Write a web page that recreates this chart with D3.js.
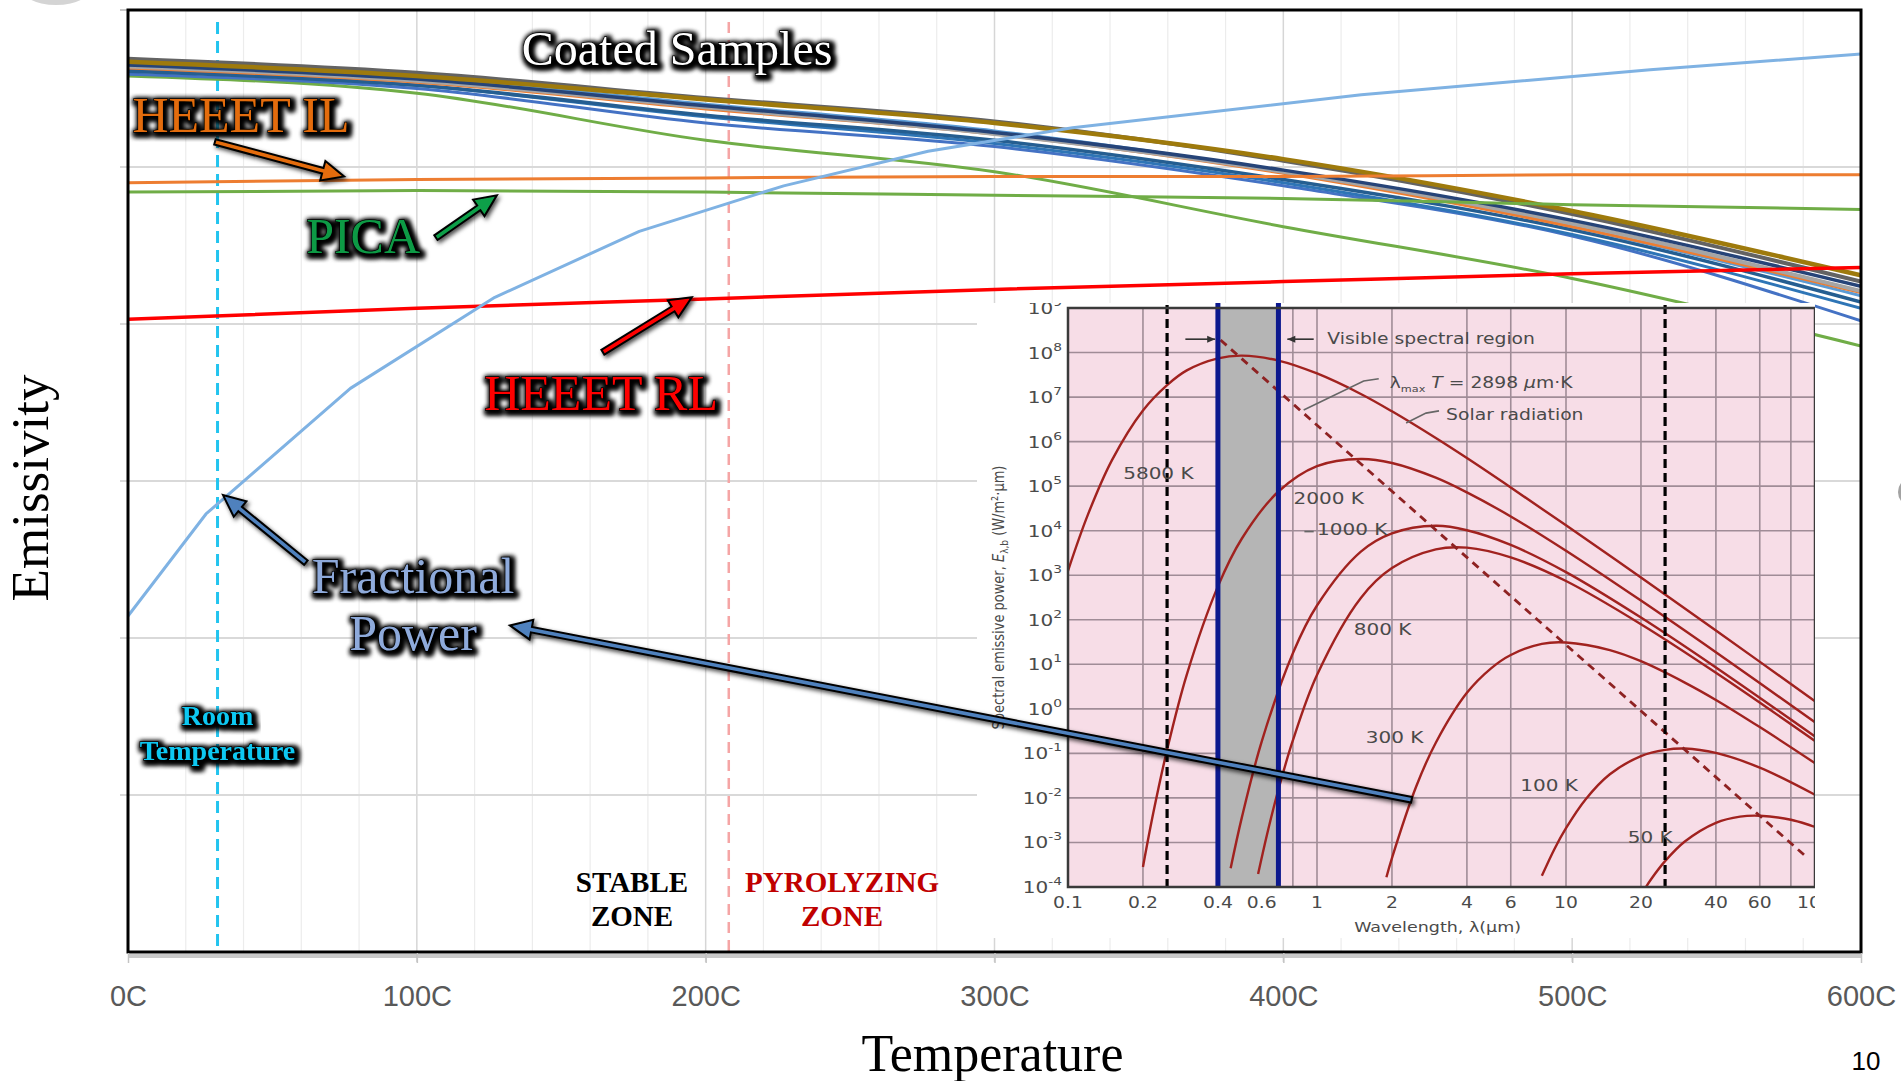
<!DOCTYPE html>
<html>
<head>
<meta charset="utf-8">
<script src="https://cdn.jsdelivr.net/npm/d3@7"></script>
<style>
  body { margin: 0; background: #fff; }
  svg { display: block; }
</style>
</head>
<body>
<div id="chart"></div>
<script>
// ---- main chart data (emissivity vs temperature, C) ----
var tempC = [0, 100, 200, 300, 400, 500, 600];
var sampleGrayDark  = [0.969, 0.960, 0.944, 0.929, 0.904, 0.870, 0.827];
var sampleBrown     = [0.967, 0.958, 0.943, 0.928, 0.905, 0.872, 0.831];
var sampleNavy      = [0.965, 0.956, 0.939, 0.922, 0.898, 0.866, 0.824];
var sampleGray      = [0.964, 0.955, 0.938, 0.921, 0.897, 0.864, 0.821];
var sampleOrange    = [0.963, 0.954, 0.937, 0.921, 0.896, 0.862, 0.820];
var sampleLightBlue = [0.966, 0.957, 0.940, 0.923, 0.897, 0.862, 0.818];
var sampleDarkBlue  = [0.961, 0.952, 0.933, 0.917, 0.892, 0.860, 0.814];
var sampleSteel     = [0.962, 0.952, 0.932, 0.915, 0.890, 0.857, 0.810];
var sampleBlue      = [0.959, 0.950, 0.928, 0.913, 0.888, 0.856, 0.802];
var sampleGreen     = [0.958, 0.947, 0.917, 0.897, 0.862, 0.829, 0.786];
var heeetIL = [0.890, 0.892, 0.893, 0.894, 0.894, 0.895, 0.895];
var pica    = [0.884, 0.885, 0.884, 0.882, 0.880, 0.876, 0.873];
var heeetRL = [0.803, 0.810, 0.816, 0.822, 0.827, 0.832, 0.836];
var fracTemps = [0, 27, 77, 127, 177, 227, 277, 327, 427, 527, 600];
var fracPower = [0.614, 0.679, 0.759, 0.817, 0.859, 0.888, 0.910, 0.925, 0.946, 0.962, 0.972];
var xTickLabels = ["0C", "100C", "200C", "300C", "400C", "500C", "600C"];
var roomTemp = 31, pyroStart = 208;

// ---- inset data (blackbody spectral emissive power, [wavelength um, log10 E]) ----
var bb5800 = [[0.1,3.10],[0.12,4.35],[0.15,5.58],[0.2,6.70],[0.25,7.27],[0.3,7.60],[0.4,7.87],[0.5,7.93],[0.7,7.82],[1,7.53],[1.5,7.07],[2,6.68],[3,6.08],[4,5.63],[6,4.97],[10,4.12],[20,2.95],[40,1.76],[100,0.17]];
var bb2000 = [[0.2,-3.55],[0.22,-2.34],[0.25,-0.92],[0.3,0.77],[0.4,2.75],[0.5,3.83],[0.7,4.88],[1,5.45],[1.5,5.61],[2,5.52],[3,5.19],[4,4.86],[6,4.32],[10,3.55],[20,2.43],[40,1.27],[100,-0.30]];
var bb1000 = [[0.45,-3.58],[0.5,-2.42],[0.6,-0.73],[0.8,1.25],[1,2.32],[1.5,3.53],[2,3.94],[3,4.11],[4,4.01],[6,3.68],[10,3.07],[20,2.05],[40,0.93],[100,-0.62]];
var bb800  = [[0.58,-3.71],[0.63,-2.82],[0.7,-1.81],[0.8,-0.71],[1,0.76],[1.5,2.49],[2,3.16],[3,3.58],[4,3.62],[6,3.40],[10,2.87],[20,1.90],[40,0.81],[100,-0.72]];
var bb300  = [[1.9,-3.78],[2,-3.35],[2.5,-1.75],[3,-0.76],[4,0.36],[5,0.91],[6,1.21],[8,1.46],[10,1.49],[15,1.32],[20,1.07],[30,0.59],[40,0.20],[60,-0.41],[100,-1.22]];
var bb100  = [[8,-3.75],[9,-3.14],[10,-2.68],[12,-2.03],[15,-1.47],[20,-1.06],[25,-0.92],[30,-0.89],[40,-0.99],[60,-1.32],[100,-1.93]];
var bb50   = [[21,-3.99],[22,-3.82],[25,-3.42],[30,-2.98],[40,-2.56],[50,-2.42],[60,-2.40],[80,-2.49],[100,-2.65]];
var wienLine = [[0.41, 8.28], [93, -3.34]];
var lambdaTicks = [0.1, 0.2, 0.4, 0.6, 1, 2, 4, 6, 10, 20, 40, 60, 100];
var lambdaGrid = [0.2, 0.4, 0.6, 0.8, 1, 2, 4, 6, 10, 20, 40, 60, 80];
var powerExps = [-4, -3, -2, -1, 0, 1, 2, 3, 4, 5, 6, 7, 8, 9];
var visibleBand = [0.4, 0.7];
var dashedLambdas = [0.25, 25];

var W = 1901, H = 1081;
var serif = "'Liberation Serif','Times New Roman',serif";
var sans = "'Liberation Sans',Arial,sans-serif";
var dv = "'DejaVu Sans',sans-serif";

var svg = d3.select("#chart").append("svg")
  .attr("width", W)
  .attr("height", H);

var defs = svg.append("defs");
var glow = defs.append("filter").attr("id", "glow")
  .attr("x", "-10%").attr("y", "-40%").attr("width", "120%").attr("height", "180%");
glow.append("feMorphology").attr("in", "SourceAlpha").attr("operator", "dilate").attr("radius", 1.5).attr("result", "dil");
glow.append("feGaussianBlur").attr("in", "dil").attr("stdDeviation", 2.5).attr("result", "blur");
glow.append("feOffset").attr("in", "blur").attr("dx", 1.5).attr("dy", 2).attr("result", "off");
var gm = glow.append("feMerge");
gm.append("feMergeNode").attr("in", "off");
gm.append("feMergeNode").attr("in", "off");
gm.append("feMergeNode").attr("in", "SourceGraphic");

var shadow = defs.append("filter").attr("id", "shadow")
  .attr("x", "-20%").attr("y", "-20%").attr("width", "140%").attr("height", "140%");
shadow.append("feDropShadow").attr("dx", 2).attr("dy", 2.5).attr("stdDeviation", 2)
  .attr("flood-color", "#000").attr("flood-opacity", 0.7);

// scales
var x = d3.scaleLinear().domain([0, 600]).range([128, 1861]);
var y = d3.scaleLinear().domain([0.4, 1.0]).range([952, 10]);

defs.append("clipPath").attr("id", "plotClip").append("rect")
  .attr("x", 128).attr("y", 10).attr("width", 1733).attr("height", 942);

// stray slide bits
svg.append("ellipse").attr("cx", 56).attr("cy", -16).attr("rx", 38).attr("ry", 21).attr("fill", "#d4d4d4");
svg.append("circle").attr("cx", 1913).attr("cy", 492).attr("r", 15).attr("fill", "#a3a3a3");

// gridlines
var grid = svg.append("g");
grid.selectAll(".vminor")
  .data(d3.range(20, 600, 20).filter(function(d) { return d % 100 !== 0; }))
  .enter().append("line")
  .attr("x1", d => x(d)).attr("x2", d => x(d))
  .attr("y1", y(1.0)).attr("y2", y(0.4))
  .attr("stroke", "#ececec").attr("stroke-width", 1.2);
grid.selectAll(".vmajor")
  .data([100, 200, 300, 400, 500])
  .enter().append("line")
  .attr("x1", d => x(d)).attr("x2", d => x(d))
  .attr("y1", y(1.0)).attr("y2", y(0.4) + 10)
  .attr("stroke", "#d6d6d6").attr("stroke-width", 1.5);
grid.selectAll(".hgrid")
  .data([0.5, 0.6, 0.7, 0.8, 0.9])
  .enter().append("line")
  .attr("x1", x(0) - 8).attr("x2", x(600))
  .attr("y1", d => y(d)).attr("y2", d => y(d))
  .attr("stroke", "#d9d9d9").attr("stroke-width", 2);
grid.append("line").attr("x1", x(0) - 8).attr("x2", x(0))
  .attr("y1", y(1.0)).attr("y2", y(1.0)).attr("stroke", "#c8c8c8").attr("stroke-width", 2);

// zone marker lines
svg.append("line")
  .attr("x1", x(pyroStart)).attr("x2", x(pyroStart)).attr("y1", 22).attr("y2", y(0.4))
  .attr("stroke", "#f5a5a5").attr("stroke-width", 2.5).attr("stroke-dasharray", "11,7");
svg.append("line")
  .attr("x1", x(roomTemp)).attr("x2", x(roomTemp)).attr("y1", 22).attr("y2", y(0.4))
  .attr("stroke", "#22c4ef").attr("stroke-width", 3).attr("stroke-dasharray", "12,7");

// data lines
var lineGen = d3.line()
  .x(d => x(d[0]))
  .y(d => y(d[1]))
  .curve(d3.curveMonotoneX);

function zipT(vals) { return tempC.map(function(t, i) { return [t, vals[i]]; }); }

var series = [
  { v: sampleGreen,     c: "#70ad47", w: 3 },
  { v: sampleBlue,      c: "#4472c4", w: 3 },
  { v: sampleSteel,     c: "#2e75b6", w: 3 },
  { v: sampleDarkBlue,  c: "#255e91", w: 3.5 },
  { v: sampleLightBlue, c: "#5b9bd5", w: 3 },
  { v: sampleOrange,    c: "#ed7d31", w: 3 },
  { v: sampleGray,      c: "#a5a5a5", w: 4 },
  { v: sampleNavy,      c: "#264478", w: 3.5 },
  { v: sampleGrayDark,  c: "#636363", w: 4 },
  { v: sampleBrown,     c: "#9e7a0c", w: 4.5 },
  { v: heeetIL,         c: "#ed7d31", w: 3 },
  { v: pica,            c: "#70ad47", w: 3 },
  { v: heeetRL,         c: "#ff0000", w: 3.5 }
];

var dataG = svg.append("g").attr("clip-path", "url(#plotClip)");
dataG.selectAll(".series")
  .data(series)
  .enter().append("path")
  .attr("d", d => lineGen(zipT(d.v)))
  .attr("fill", "none")
  .attr("stroke", d => d.c)
  .attr("stroke-width", d => d.w);

// fractional power is plotted point to point (visible kinks)
dataG.append("path")
  .attr("d", d3.line().x(d => x(d[0])).y(d => y(d[1]))(fracTemps.map(function(t, i) { return [t, fracPower[i]]; })))
  .attr("fill", "none")
  .attr("stroke", "#7fb2e3")
  .attr("stroke-width", 3)
  .attr("stroke-linejoin", "round");

// axes frame
svg.append("line").attr("x1", x(0)).attr("x2", x(600)).attr("y1", y(0.4) + 4).attr("y2", y(0.4) + 4)
  .attr("stroke", "#bdbdbd").attr("stroke-width", 4).attr("opacity", 0.8);
svg.append("rect")
  .attr("x", x(0)).attr("y", y(1.0))
  .attr("width", x(600) - x(0)).attr("height", y(0.4) - y(1.0))
  .attr("fill", "none").attr("stroke", "#000").attr("stroke-width", 3);

var xAxis = d3.axisBottom(x)
  .tickValues(tempC)
  .tickFormat(function(d, i) { return xTickLabels[i]; })
  .tickSize(10)
  .tickPadding(22);
var xg = svg.append("g").attr("transform", "translate(0," + (y(0.4) + 1) + ")").call(xAxis);
xg.select(".domain").remove();
xg.selectAll(".tick line").attr("stroke", "#c4c4c4").attr("stroke-width", 1.5);
xg.selectAll(".tick text")
  .attr("font-family", sans).attr("font-size", 29).attr("fill", "#595959");

svg.append("text")
  .attr("x", x(300) - 2).attr("y", 1071)
  .attr("text-anchor", "middle")
  .attr("font-family", serif).attr("font-size", 52)
  .text("Temperature");

svg.append("text")
  .attr("transform", "translate(48," + 488 + ") rotate(-90)")
  .attr("text-anchor", "middle")
  .attr("font-family", serif).attr("font-size", 53)
  .text("Emissivity");

svg.append("text")
  .attr("x", 1866).attr("y", 1070)
  .attr("text-anchor", "middle")
  .attr("font-family", sans).attr("font-size", 26)
  .text("10");

// ================= inset: blackbody spectrum =================
var xL = d3.scaleLog().domain([0.1, 100]).range([1068, 1815]);
var yL = d3.scaleLinear().domain([-4, 9]).range([887, 308]);

defs.append("clipPath").attr("id", "boxClip").append("rect")
  .attr("x", 977).attr("y", 303).attr("width", 838).attr("height", 635);
defs.append("clipPath").attr("id", "insetClip").append("rect")
  .attr("x", xL(0.1)).attr("y", yL(9)).attr("width", xL(100) - xL(0.1)).attr("height", yL(-4) - yL(9));

var inset = svg.append("g").attr("clip-path", "url(#boxClip)");
inset.append("rect").attr("x", 977).attr("y", 303).attr("width", 838).attr("height", 635).attr("fill", "#fff");
inset.append("rect")
  .attr("x", xL(0.1)).attr("y", yL(9))
  .attr("width", xL(100) - xL(0.1)).attr("height", yL(-4) - yL(9))
  .attr("fill", "#f7dde7");

var ip = inset.append("g").attr("clip-path", "url(#insetClip)");
ip.selectAll(".hg").data(powerExps).enter().append("line")
  .attr("x1", xL(0.1)).attr("x2", xL(100))
  .attr("y1", d => yL(d)).attr("y2", d => yL(d))
  .attr("stroke", "#a08c97").attr("stroke-width", 1.6);
ip.selectAll(".vg").data(lambdaGrid).enter().append("line")
  .attr("x1", d => xL(d)).attr("x2", d => xL(d))
  .attr("y1", yL(9)).attr("y2", yL(-4))
  .attr("stroke", "#a08c97").attr("stroke-width", 1.6);

ip.append("rect")
  .attr("x", xL(visibleBand[0])).attr("y", yL(9))
  .attr("width", xL(visibleBand[1]) - xL(visibleBand[0])).attr("height", yL(-4) - yL(9))
  .attr("fill", "#b5b5b5");

var bbLine = d3.line()
  .x(d => xL(d[0]))
  .y(d => yL(d[1]))
  .curve(d3.curveCatmullRom.alpha(0.5));

ip.selectAll(".bb")
  .data([bb5800, bb2000, bb1000, bb800, bb300, bb100, bb50])
  .enter().append("path")
  .attr("d", d => bbLine(d))
  .attr("fill", "none")
  .attr("stroke", "#a1221f")
  .attr("stroke-width", 2.4);

ip.append("path")
  .attr("d", d3.line().x(d => xL(d[0])).y(d => yL(d[1]))(wienLine))
  .attr("fill", "none").attr("stroke", "#8e2222")
  .attr("stroke-width", 2.8).attr("stroke-dasharray", "8,6");

inset.selectAll(".vis").data(visibleBand).enter().append("line")
  .attr("x1", d => xL(d)).attr("x2", d => xL(d))
  .attr("y1", yL(9) - 8).attr("y2", yL(-4))
  .attr("stroke", "#0c188e").attr("stroke-width", 5);

inset.selectAll(".dl").data(dashedLambdas).enter().append("line")
  .attr("x1", d => xL(d)).attr("x2", d => xL(d))
  .attr("y1", yL(9) - 3).attr("y2", yL(-4))
  .attr("stroke", "#000").attr("stroke-width", 3.2).attr("stroke-dasharray", "9,5");

// inset frame
inset.append("rect")
  .attr("x", xL(0.1)).attr("y", yL(9))
  .attr("width", xL(100) - xL(0.1)).attr("height", yL(-4) - yL(9))
  .attr("fill", "none").attr("stroke", "#3a3a3a").attr("stroke-width", 2.5);

function insetText(px, py, anchor, size, rot) {
  var t = inset.append("text")
    .attr("transform", "translate(" + px + "," + py + ") scale(1.25,1)" + (rot ? " rotate(" + rot + ")" : ""))
    .attr("text-anchor", anchor)
    .attr("font-family", dv).attr("font-size", size)
    .attr("fill", "#4a4a4a");
  return t;
}

lambdaTicks.forEach(function(l) {
  insetText(xL(l), 908, "middle", 15).text(String(l));
});
powerExps.forEach(function(e) {
  var t = insetText(1062, yL(e) + 6, "end", 16);
  t.append("tspan").text("10");
  t.append("tspan").attr("dy", -8).attr("font-size", 11).text(e < 0 ? "-" + (-e) : String(e));
});

insetText(xL(3.05), 932, "middle", 14).text("Wavelength, \u03bb(\u03bcm)");
var yt = insetText(1004, yL(2.5), "middle", 13, -90);
yt.append("tspan").text("Spectral emissive power, ");
yt.append("tspan").attr("font-style", "italic").text("E");
yt.append("tspan").attr("font-size", 9).attr("dy", 3).text("\u03bb,b");
yt.append("tspan").attr("dy", -3).text(" (W/m\u00b2\u00b7\u03bcm)");

// inset annotations
var vis = insetText(xL(1.10), yL(8.19), "start", 15);
vis.text("Visible spectral region");
var lm = insetText(xL(1.96), yL(7.2), "start", 15);
lm.append("tspan").text("\u03bb");
lm.append("tspan").attr("font-size", 9).attr("dy", 4).text("max");
lm.append("tspan").attr("dy", -4).attr("font-style", "italic").text(" T");
lm.append("tspan").text(" = 2898 ");
lm.append("tspan").attr("font-style", "italic").text("\u03bc");
lm.append("tspan").text("m\u00b7K");
insetText(xL(3.3), yL(6.49), "start", 15).text("Solar radiation");

var bbLabels = [["5800 K", 0.1666, 5.16], ["2000 K", 0.805, 4.60], ["1000 K", 1.00, 3.90],
  ["800 K", 1.405, 1.66], ["300 K", 1.57, -0.77], ["100 K", 6.55, -1.84], ["50 K", 17.7, -3.01]];
bbLabels.forEach(function(b) {
  insetText(xL(b[1]), yL(b[2]), "start", 16).text(b[0]);
});

var leader = d3.line().x(d => xL(d[0])).y(d => yL(d[1]));
[[[0.296, 8.30], [0.39, 8.30]], [[0.97, 8.30], [0.76, 8.30]]].forEach(function(seg) {
  inset.append("path").attr("d", leader(seg)).attr("stroke", "#333").attr("stroke-width", 1.6);
  var end = seg[1], start = seg[0];
  var ex = xL(end[0]), ey = yL(end[1]);
  var dir = xL(end[0]) > xL(start[0]) ? 1 : -1;
  inset.append("path")
    .attr("d", "M" + ex + "," + ey + "L" + (ex - dir * 8) + "," + (ey - 3.5) + "L" + (ex - dir * 8) + "," + (ey + 3.5) + "Z")
    .attr("fill", "#333");
});
inset.append("path").attr("d", leader([[0.884, 6.71], [1.54, 7.36], [1.77, 7.41]]))
  .attr("fill", "none").attr("stroke", "#666").attr("stroke-width", 1.6);
inset.append("path").attr("d", leader([[2.28, 6.42], [2.74, 6.64], [3.09, 6.69]]))
  .attr("fill", "none").attr("stroke", "#666").attr("stroke-width", 1.6);
inset.append("path").attr("d", leader([[0.89, 3.98], [0.97, 3.98]]))
  .attr("fill", "none").attr("stroke", "#666").attr("stroke-width", 1.6);

// ================= annotations =================
var annot = svg.append("g");

function arrow(p1, p2, color) {
  var x1 = x(p1[0]), y1 = y(p1[1]), x2 = x(p2[0]), y2 = y(p2[1]);
  var dx = x2 - x1, dy = y2 - y1, len = Math.sqrt(dx * dx + dy * dy);
  var ux = dx / len, uy = dy / len, nx = -uy, ny = ux;
  var hl = 22, hw = 10, sw = 2.8;
  var bx = x2 - ux * hl, by = y2 - uy * hl;
  var pts = [[x1 + nx * sw, y1 + ny * sw], [bx + nx * sw, by + ny * sw], [bx + nx * hw, by + ny * hw], [x2, y2],
    [bx - nx * hw, by - ny * hw], [bx - nx * sw, by - ny * sw], [x1 - nx * sw, y1 - ny * sw]];
  annot.append("path")
    .attr("d", d3.line()(pts) + "Z")
    .attr("fill", color).attr("stroke", "#000").attr("stroke-width", 2)
    .attr("stroke-linejoin", "miter")
    .attr("filter", "url(#shadow)");
}

function label(txt, t, e, color, size, weight) {
  return annot.append("text")
    .attr("x", x(t)).attr("y", y(e))
    .attr("text-anchor", "middle")
    .attr("font-family", serif).attr("font-size", size)
    .attr("font-weight", weight || "normal")
    .attr("fill", color)
    .attr("stroke", "#000").attr("stroke-width", 1.3).attr("paint-order", "stroke")
    .attr("filter", "url(#glow)")
    .text(txt);
}

arrow([30.1, 0.916], [74.8, 0.894], "#e46c0a");
arrow([106.6, 0.855], [127.7, 0.882], "#10a04a");
arrow([164.4, 0.782], [195.2, 0.817], "#ff0000");
arrow([61.6, 0.648], [32.9, 0.691], "#4f81bd");
arrow([444.4, 0.497], [132.2, 0.608], "#4f81bd");

label("Coated Samples", 190.1, 0.965, "#ffffff", 48);
label("HEEET IL", 39.1, 0.9223, "#e36c09", 50);
label("PICA", 81.4, 0.8452, "#0b9a45", 50);
label("HEEET RL", 163.8, 0.7452, "#ff0000", 50);
label("Fractional", 98.7, 0.6287, "#8eaadb", 50);
label("Power", 98.7, 0.5924, "#8eaadb", 50);
label("Room", roomTemp, 0.5445, "#0fc8f2", 28, "bold");
label("Temperature", roomTemp, 0.5222, "#0fc8f2", 28, "bold");

[["STABLE", 174.5, 0.4382, "#000"], ["ZONE", 174.5, 0.4166, "#000"],
 ["PYROLYZING", 247.2, 0.4382, "#c00000"], ["ZONE", 247.2, 0.4166, "#c00000"]].forEach(function(z) {
  annot.append("text")
    .attr("x", x(z[1])).attr("y", y(z[2]))
    .attr("text-anchor", "middle")
    .attr("font-family", serif).attr("font-size", 29).attr("font-weight", "bold")
    .attr("fill", z[3])
    .text(z[0]);
});
</script>
</body>
</html>
